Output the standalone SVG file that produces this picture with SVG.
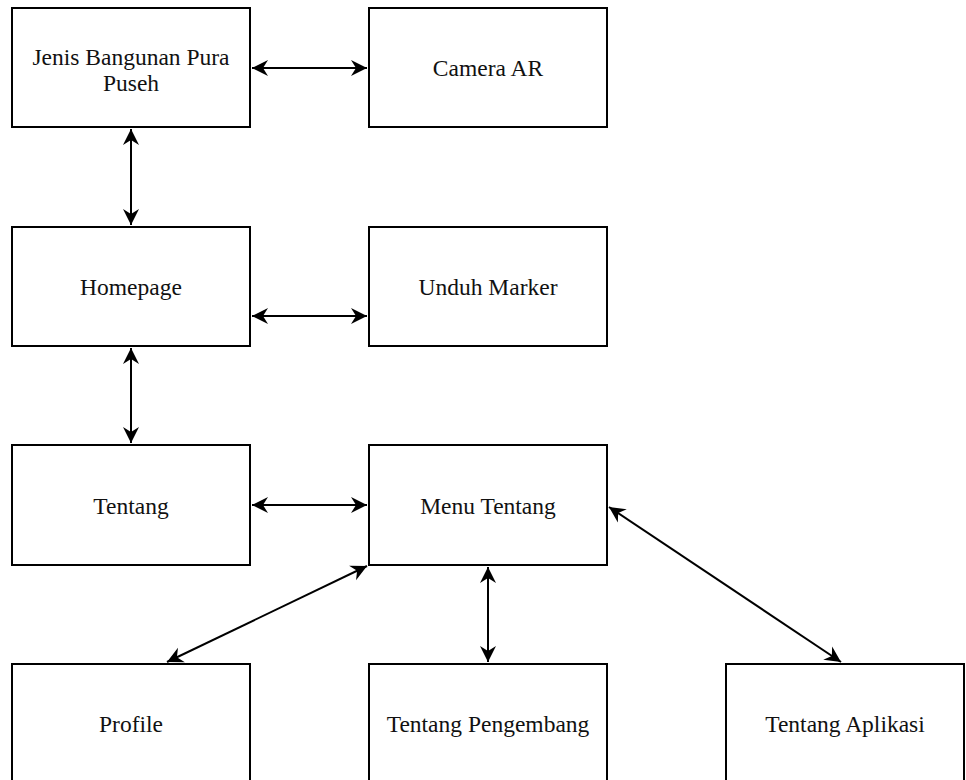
<svg xmlns="http://www.w3.org/2000/svg" width="966" height="780" viewBox="0 0 966 780">
<style>
.box{fill:#fff;stroke:#000;stroke-width:2}
.lbl{font-size:23.5px;fill:#111;text-anchor:middle}
.edge{fill:none;stroke:#000;stroke-width:2;marker-start:url(#ah);marker-end:url(#ah)}
</style>
<defs>
<marker id="ah" markerUnits="userSpaceOnUse" markerWidth="22" markerHeight="22" viewBox="-18 -11 22 22" refX="0" refY="0" orient="auto-start-reverse">
<path d="M0,0 L-16,-8 L-11,0 L-16,8 Z" fill="#000"/>
</marker>
</defs>
<rect width="966" height="780" fill="#fff"/>
<g id="connectors">
<line class="edge" x1="252" y1="68" x2="367" y2="68"/>
<line class="edge" x1="131" y1="129" x2="131" y2="225"/>
<line class="edge" x1="252" y1="316" x2="367" y2="316"/>
<line class="edge" x1="131" y1="348" x2="131" y2="443"/>
<line class="edge" x1="252" y1="505" x2="367" y2="505"/>
<line class="edge" x1="367" y1="566" x2="167" y2="662"/>
<line class="edge" x1="488" y1="567" x2="488" y2="662"/>
<line class="edge" x1="609" y1="507" x2="841" y2="662"/>
</g>
<g font-family="Liberation Serif, Times New Roman, serif">
<g id="jenis"><rect class="box" x="12" y="8" width="238" height="119"/><text class="lbl" x="131" y="65">Jenis Bangunan Pura</text><text class="lbl" x="131" y="91">Puseh</text></g>
<g id="camera"><rect class="box" x="369" y="8" width="238" height="119"/><text class="lbl" x="488" y="76">Camera AR</text></g>
<g id="homepage"><rect class="box" x="12" y="227" width="238" height="119"/><text class="lbl" x="131" y="295">Homepage</text></g>
<g id="unduh"><rect class="box" x="369" y="227" width="238" height="119"/><text class="lbl" x="488" y="295">Unduh Marker</text></g>
<g id="tentang"><rect class="box" x="12" y="445" width="238" height="120"/><text class="lbl" x="131" y="514">Tentang</text></g>
<g id="menu"><rect class="box" x="369" y="445" width="238" height="120"/><text class="lbl" x="488" y="514">Menu Tentang</text></g>
<g id="profile"><rect class="box" x="12" y="664" width="238" height="120"/><text class="lbl" x="131" y="732">Profile</text></g>
<g id="pengembang"><rect class="box" x="369" y="664" width="238" height="120"/><text class="lbl" x="488" y="732">Tentang Pengembang</text></g>
<g id="aplikasi"><rect class="box" x="726" y="664" width="238" height="120"/><text class="lbl" x="845" y="732">Tentang Aplikasi</text></g>
</g>
</svg>
